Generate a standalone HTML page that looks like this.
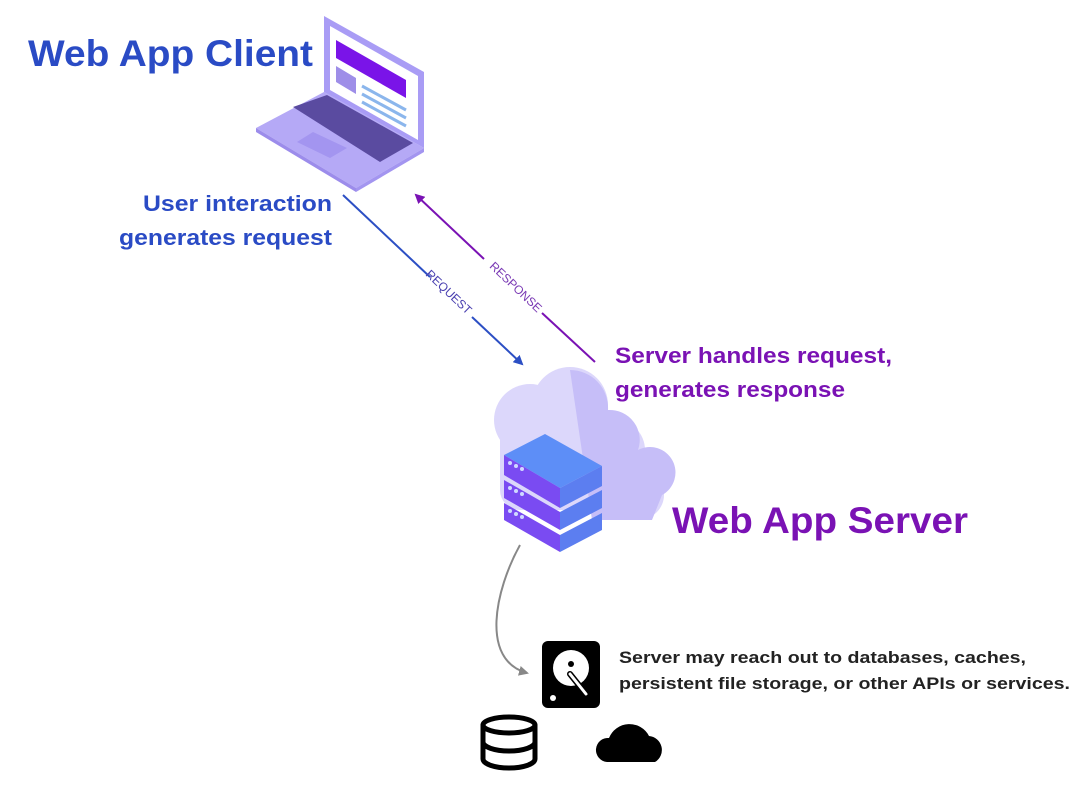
<!DOCTYPE html>
<html><head><meta charset="utf-8"><style>
html,body{margin:0;padding:0;background:#fff;}
svg{display:block;font-family:"Liberation Sans",sans-serif;}
</style></head><body>
<svg width="1086" height="789" viewBox="0 0 1086 789">
<defs>
<marker id="ab" viewBox="0 0 10 10" refX="8" refY="5" markerWidth="5" markerHeight="5" orient="auto"><path d="M0,0 L10,5 L0,10 z" fill="#2c4fc4"/></marker>
<marker id="ap" viewBox="0 0 10 10" refX="8" refY="5" markerWidth="5" markerHeight="5" orient="auto"><path d="M0,0 L10,5 L0,10 z" fill="#7a12b4"/></marker>
<marker id="ag" viewBox="0 0 10 10" refX="8" refY="5" markerWidth="5" markerHeight="5" orient="auto"><path d="M0,0 L10,5 L0,10 z" fill="#888"/></marker>
</defs>
<text x="28" y="66" font-size="37" font-weight="bold" fill="#2a4bc5" textLength="285" lengthAdjust="spacingAndGlyphs">Web App Client</text>
<!-- laptop -->
<g>
<polygon points="256,128 324,92 424,148 356,188" fill="#b5a9f6"/>
<polygon points="256,128 356,188 356,192 256,132" fill="#9c8ceb"/>
<polygon points="356,188 424,148 424,152 356,192" fill="#a395f0"/>
<polygon points="324,16 424,72 424,148 324,92" fill="#a99cf5"/>
<polygon points="330,26 418,76 418,140 330,90" fill="#fff"/>
<polygon points="336,40 406,80 406,98 336,58" fill="#7a14e8"/>
<polygon points="336,66 356,78 356,94 336,82" fill="#9e8ee8"/>
<line x1="362" y1="86" x2="406" y2="110" stroke="#8bb6ec" stroke-width="3"/>
<line x1="362" y1="94" x2="406" y2="118" stroke="#8bb6ec" stroke-width="3"/>
<line x1="362" y1="102" x2="406" y2="126" stroke="#8bb6ec" stroke-width="3"/>
<polygon points="293,107 327,95 413,143 380,162" fill="#5a4ba0"/>
<polygon points="297,142 313,132 347,148 330,158" fill="#a395f0"/>
</g>
<text text-anchor="end" font-size="22" font-weight="bold" fill="#2a4bc5"><tspan x="332" y="211" textLength="189" lengthAdjust="spacingAndGlyphs">User interaction</tspan><tspan x="332" y="245" textLength="213" lengthAdjust="spacingAndGlyphs">generates request</tspan></text>
<line x1="343" y1="195" x2="430" y2="277" stroke="#2c4fc4" stroke-width="2"/>
<line x1="472" y1="317" x2="522" y2="364" stroke="#2c4fc4" stroke-width="2" marker-end="url(#ab)"/>
<text transform="translate(446,295) rotate(43.5)" text-anchor="middle" font-size="12" fill="#4a40b0">REQUEST</text>
<line x1="595" y1="362" x2="542" y2="313" stroke="#7a12b4" stroke-width="2"/>
<line x1="484" y1="259" x2="416" y2="195" stroke="#7a12b4" stroke-width="2" marker-end="url(#ap)"/>
<text transform="translate(513,290) rotate(43.5)" text-anchor="middle" font-size="12" fill="#7a3ab4">RESPONSE</text>
<text font-size="22" font-weight="bold" fill="#7a12b4"><tspan x="615" y="363" textLength="277" lengthAdjust="spacingAndGlyphs">Server handles request,</tspan><tspan x="615" y="397" textLength="230" lengthAdjust="spacingAndGlyphs">generates response</tspan></text>
<!-- cloud -->
<g fill="#dcd7fb">
<circle cx="530" cy="420" r="36"/><circle cx="570" cy="405" r="38"/><circle cx="615" cy="450" r="30"/><circle cx="640" cy="495" r="24"/>
<rect x="500" y="420" width="140" height="90" rx="20"/>
</g>
<path d="M570,370 a38,38 0 0 1 38,40 a30,30 0 0 1 30,40 a24,24 0 0 1 24,45 l-10,25 l-60,0 z" fill="#c6bef8"/>
<!-- servers -->
<g>
<polygon points="504,455 545,434 602,466 560,488" fill="#5d8ef7"/>
<polygon points="504,455 560,488 560,508 504,475" fill="#7a4bf2"/>
<polygon points="560,488 602,466 602,486 560,508" fill="#5c7ef0"/>
<polygon points="504,480 560,512 560,530 504,498" fill="#7a4bf2"/>
<polygon points="560,512 602,490 602,508 560,530" fill="#5c7ef0"/>
<polygon points="504,503 560,535 560,552 504,520" fill="#7a4bf2"/>
<polygon points="560,535 602,513 602,530 560,552" fill="#5c7ef0"/>
<g fill="#cfd9ff"><circle cx="510" cy="463" r="2"/><circle cx="516" cy="466" r="2"/><circle cx="522" cy="469" r="2"/>
<circle cx="510" cy="488" r="2"/><circle cx="516" cy="491" r="2"/><circle cx="522" cy="494" r="2"/>
<circle cx="510" cy="511" r="2"/><circle cx="516" cy="514" r="2"/><circle cx="522" cy="517" r="2"/></g>
</g>
<text x="672" y="533" font-size="37" font-weight="bold" fill="#7a12b4" textLength="296" lengthAdjust="spacingAndGlyphs">Web App Server</text>
<path d="M520,545 C495,590 480,660 527,673" fill="none" stroke="#888" stroke-width="2" marker-end="url(#ag)"/>
<!-- hdd -->
<rect x="542" y="641" width="58" height="67" rx="6" fill="#000"/>
<circle cx="571" cy="668" r="18" fill="#fff"/>
<circle cx="571" cy="664" r="3" fill="#000"/>
<line x1="570" y1="674" x2="586" y2="694" stroke="#000" stroke-width="6" stroke-linecap="round"/>
<line x1="570" y1="674" x2="586" y2="694" stroke="#fff" stroke-width="3" stroke-linecap="round"/>
<circle cx="553" cy="698" r="3" fill="#fff"/>
<text font-size="17" font-weight="bold" fill="#222"><tspan x="619" y="663" textLength="407" lengthAdjust="spacingAndGlyphs">Server may reach out to databases, caches,</tspan><tspan x="619" y="689" textLength="451" lengthAdjust="spacingAndGlyphs">persistent file storage, or other APIs or services.</tspan></text>
<!-- db -->
<g fill="none" stroke="#000" stroke-width="5">
<ellipse cx="509" cy="725" rx="26" ry="8"/>
<path d="M483,725 v34 a26,9 0 0 0 52,0 v-34"/>
<path d="M483,742 a26,9 0 0 0 52,0"/>
</g>
<!-- cloud icon -->
<path d="M607,762 a12,12 0 0 1 2,-24 a22,22 0 0 1 40,-2 a14,14 0 0 1 6,26 z" fill="#000"/>
</svg>
</body></html>
